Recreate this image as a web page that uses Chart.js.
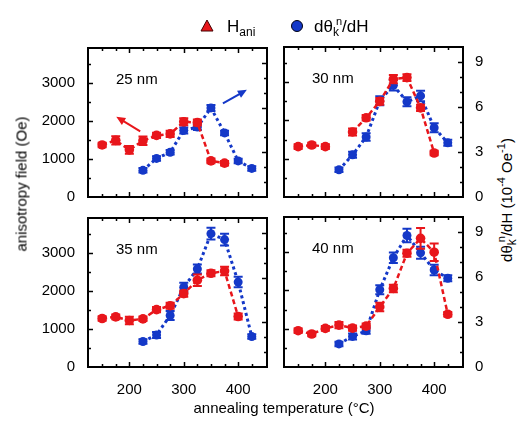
<!DOCTYPE html>
<html>
<head>
<meta charset="utf-8">
<script src="https://cdn.jsdelivr.net/npm/chart.js@4.4.1/dist/chart.umd.min.js"></script>
<style>
  body { margin: 0; background: #fff; font-family: "Liberation Sans", Arial, sans-serif; }
  #wrap { position: relative; width: 532px; height: 432px; overflow: hidden; background: #fff; }
  #wrap canvas { position: absolute; }
  .txt { position: absolute; color: #000; white-space: nowrap; line-height: 1; }
  .rot { transform: translate(-50%, -50%) rotate(-90deg); }
  sub { font-size: 12px; vertical-align: -4px; line-height: 0; }
  sup { font-size: 11px; vertical-align: 7px; line-height: 0; }
  sup.n { margin-left: -3px; }
</style>
</head>
<body>
<div id="wrap">
  <canvas id="c25"></canvas>
  <canvas id="c30"></canvas>
  <canvas id="c35"></canvas>
  <canvas id="c40"></canvas>

  <!-- legend -->
  <svg class="txt" style="left:200px;top:19px" width="14" height="13"><polygon points="7,1 13,12 1,12" fill="#e8161b" stroke="#400" stroke-width="1"/></svg>
  <div class="txt" style="left:227px;top:18px;font-size:17px">H<sub>ani</sub></div>
  <svg class="txt" style="left:290px;top:19px" width="14" height="14"><circle cx="7" cy="7" r="5.5" fill="#1438c8" stroke="#001" stroke-width="1"/></svg>
  <div class="txt" style="left:314px;top:18px;font-size:17px">dθ<sub>k</sub><sup class="n">n</sup>/dH</div>

  <!-- axis titles -->
  <div class="txt" style="left:284px;top:400px;transform:translateX(-50%);font-size:15px">annealing temperature (°C)</div>
  <div class="txt rot" style="left:21px;top:184px;font-size:15px">anisotropy field (Oe)</div>
  <div class="txt rot" style="left:506px;top:200px;font-size:15px">dθ<sub>k</sub><sup class="n">n</sup>/dH (10<sup>-4</sup> Oe<sup>-1</sup>)</div>
</div>

<script>
// annealing temperatures (°C)
const temps = [150, 175, 200, 225, 250, 275, 300, 325, 350, 375, 400, 425];

// anisotropy field H_ani (Oe) and its error bars, per thickness
const hani25    = [1370, 1490, 1240, 1480, 1620, 1660, 1980, 1960, 950, 890, null, null];
const hani25Err = [60, 110, 100, 110, 70, 80, 90, 80, 60, 60, null, null];
const hani30    = [1316, 1359, 1316, null, 1700, 2070, 2500, 3080, 3120, 2330, 1150, null];
const hani30Err = [60, 60, 60, null, 90, 70, 90, 110, 90, 80, 60, null];
const hani35    = [1276, 1319, 1224, 1267, 1509, 1612, 1931, 2284, 2466, 2526, 1328, null];
const hani35Err = [60, 60, 100, 60, 70, 80, 80, 150, 80, 110, 80, null];
const hani40    = [948, 862, 1009, 1095, 1017, 1069, 1569, 2052, 2974, 3362, 3000, 1379];
const hani40Err = [60, 60, 60, 80, 70, 70, 110, 100, 90, 270, 230, 60];

// dθk^n/dH (10^-4 Oe^-1) and its error bars, per thickness
const dth25    = [null, null, null, 1.79, 2.59, 3.0, 4.47, 4.69, 5.98, 4.30, 2.42, 1.92];
const dth25Err = [null, null, null, 0.15, 0.15, 0.15, 0.2, 0.2, 0.2, 0.15, 0.15, 0.15];
const dth30    = [null, null, null, 1.81, 2.81, 4.0, 6.41, 7.45, 6.35, 6.74, 4.62, 3.61];
const dth30Err = [null, null, null, 0.15, 0.2, 0.25, 0.3, 0.35, 0.3, 0.35, 0.3, 0.2];
const dth35    = [null, null, null, 1.71, 2.15, 3.46, 5.35, 6.58, 8.95, 8.55, 5.70, 2.04];
const dth35Err = [null, null, null, 0.15, 0.2, 0.3, 0.3, 0.3, 0.4, 0.4, 0.35, 0.15];
const dth40    = [null, null, null, 1.54, 2.04, 2.41, 5.15, 7.28, 8.77, 7.61, 6.47, 5.92];
const dth40Err = [null, null, null, 0.15, 0.2, 0.2, 0.3, 0.35, 0.45, 0.4, 0.35, 0.2];

// axis ticks
const xTickLabels = [200, 300, 400];
const xMinorTicks = [150, 175, 200, 225, 250, 275, 300, 325, 350, 375, 400, 425];
const leftTickLabels = [0, 1000, 2000, 3000];
const leftMinorTicks = [500, 1000, 1500, 2000, 2500, 3000, 3500];
const rightTickLabels = [0, 3, 6, 9];
const rightMinorTicks = [1, 2, 3, 4, 5, 6, 7, 8, 9];

const panelNames = ['25 nm', '30 nm', '35 nm', '40 nm'];

const RED = '#e8161b';
const BLUE = '#1438c8';
const FONT = { family: '"Liberation Sans", Arial, sans-serif', size: 15 };

// all frames 179 x 153, canvases padded around them
const FRAME_W = 179, FRAME_H = 153;
const PAD_L = 60, PAD_R = 30, PAD_T = 10, PAD_B = 32;

// error bars, drawn just before each dataset's own points
const errorBars = {
  id: 'errorBars',
  beforeDatasetDraw(chart, args) {
    const ds = chart.data.datasets[args.index];
    if (!ds.errors) return;
    const ctx = chart.ctx;
    const ys = chart.scales[ds.yAxisID];
    const xs = chart.scales.x;
    ctx.save();
    ctx.strokeStyle = ds.borderColor;
    ctx.lineWidth = 2;
    ds.data.forEach((p, i) => {
      const e = ds.errors[i];
      if (p.y == null || !e) return;
      const px = xs.getPixelForValue(p.x);
      const top = ys.getPixelForValue(p.y + e);
      const bot = ys.getPixelForValue(p.y - e);
      ctx.beginPath();
      ctx.moveTo(px, top); ctx.lineTo(px, bot);
      ctx.moveTo(px - 4.5, top); ctx.lineTo(px + 4.5, top);
      ctx.moveTo(px - 4.5, bot); ctx.lineTo(px + 4.5, bot);
      ctx.stroke();
    });
    ctx.restore();
  }
};

// closed frame with inward ticks on all four sides, panel label and arrows
const frameTicks = {
  id: 'frameTicks',
  afterDraw(chart, args, opts) {
    const { ctx, chartArea: a } = chart;
    const xs = chart.scales.x, yl = chart.scales.y, yr = chart.scales.y2;
    ctx.save();
    ctx.strokeStyle = '#000';
    ctx.lineWidth = 1.5;
    xMinorTicks.forEach(v => {
      const px = Math.round(xs.getPixelForValue(v)) + 0.5;
      const len = xTickLabels.includes(v) ? 5 : 3;
      ctx.beginPath();
      ctx.moveTo(px, a.bottom); ctx.lineTo(px, a.bottom - len);
      ctx.moveTo(px, a.top); ctx.lineTo(px, a.top + len);
      ctx.stroke();
    });
    leftMinorTicks.forEach(v => {
      const py = Math.round(yl.getPixelForValue(v)) + 0.5;
      const len = leftTickLabels.includes(v) ? 5 : 3;
      ctx.beginPath();
      ctx.moveTo(a.left, py); ctx.lineTo(a.left + len, py);
      ctx.stroke();
    });
    rightMinorTicks.forEach(v => {
      const py = Math.round(yr.getPixelForValue(v)) + 0.5;
      const len = rightTickLabels.includes(v) ? 5 : 3;
      ctx.beginPath();
      ctx.moveTo(a.right, py); ctx.lineTo(a.right - len, py);
      ctx.stroke();
    });
    ctx.lineWidth = 2;
    ctx.strokeRect(a.left, a.top, a.right - a.left, a.bottom - a.top);

    ctx.fillStyle = '#000';
    ctx.font = '15px "Liberation Sans", Arial, sans-serif';
    ctx.textBaseline = 'alphabetic';
    ctx.fillText(opts.label, a.left + 28, a.top + 36);

    (opts.arrows || []).forEach(ar => {
      const ys = chart.scales[ar.axis];
      const x0 = xs.getPixelForValue(ar.from[0]), y0 = ys.getPixelForValue(ar.from[1]);
      const x1 = xs.getPixelForValue(ar.to[0]), y1 = ys.getPixelForValue(ar.to[1]);
      const ang = Math.atan2(y1 - y0, x1 - x0);
      ctx.strokeStyle = ar.color; ctx.fillStyle = ar.color; ctx.lineWidth = 2;
      ctx.beginPath(); ctx.moveTo(x0, y0);
      ctx.lineTo(x1 - 6 * Math.cos(ang), y1 - 6 * Math.sin(ang)); ctx.stroke();
      ctx.beginPath(); ctx.moveTo(x1, y1);
      ctx.lineTo(x1 - 9 * Math.cos(ang) + 4 * Math.sin(ang), y1 - 9 * Math.sin(ang) - 4 * Math.cos(ang));
      ctx.lineTo(x1 - 9 * Math.cos(ang) - 4 * Math.sin(ang), y1 - 9 * Math.sin(ang) + 4 * Math.cos(ang));
      ctx.closePath(); ctx.fill();
    });
    ctx.restore();
  }
};

function pts(vals) {
  return temps.map((t, i) => ({ x: t, y: vals[i] }));
}

const plain = v => String(v);

function makePanel(id, left, top, idx, hani, haniErr, dth, dthErr, showLeft, showRight, showX, arrows) {
  const cv = document.getElementById(id);
  cv.width = PAD_L + FRAME_W + PAD_R;
  cv.height = PAD_T + FRAME_H + PAD_B;
  cv.style.left = (left - PAD_L) + 'px';
  cv.style.top = (top - PAD_T) + 'px';
  cv.style.width = cv.width + 'px';
  cv.style.height = cv.height + 'px';

  return new Chart(cv.getContext('2d'), {
    type: 'line',
    data: {
      datasets: [
        {
          data: pts(hani), errors: haniErr, yAxisID: 'y',
          borderColor: RED, backgroundColor: RED, borderWidth: 2.5, borderDash: [5, 3],
          pointRadius: 4.8, pointBorderWidth: 0, spanGaps: false
        },
        {
          data: pts(dth), errors: dthErr, yAxisID: 'y2',
          borderColor: BLUE, backgroundColor: BLUE, borderWidth: 3, borderDash: [3, 3],
          pointRadius: 4.5, pointBorderWidth: 0, spanGaps: false
        }
      ]
    },
    options: {
      responsive: false,
      animation: false,
      events: [],
      layout: { padding: { top: PAD_T, left: 0, right: 0, bottom: 0 } },
      plugins: {
        legend: { display: false },
        tooltip: { enabled: false },
        frameTicks: { label: panelNames[idx], arrows: arrows }
      },
      scales: {
        x: {
          type: 'linear', min: 124, max: 453,
          grid: { display: false }, border: { display: false },
          afterFit: s => { s.height = PAD_B; },
          afterBuildTicks: s => { s.ticks = xTickLabels.map(v => ({ value: v })); },
          ticks: { display: showX, autoSkip: false, maxRotation: 0, color: '#000', font: FONT, padding: 6, callback: plain }
        },
        y: {
          position: 'left', min: 0, max: 3920,
          grid: { display: false }, border: { display: false },
          afterFit: s => { s.width = PAD_L; },
          afterBuildTicks: s => { s.ticks = leftTickLabels.map(v => ({ value: v })); },
          ticks: { display: showLeft, autoSkip: false, color: '#000', font: FONT, padding: 5, callback: plain }
        },
        y2: {
          position: 'right', min: 0, max: 10,
          grid: { display: false }, border: { display: false },
          afterFit: s => { s.width = PAD_R; },
          afterBuildTicks: s => { s.ticks = rightTickLabels.map(v => ({ value: v })); },
          ticks: { display: showRight, autoSkip: false, color: '#000', font: FONT, padding: 4, callback: plain }
        }
      }
    },
    plugins: [errorBars, frameTicks]
  });
}

const arrows25 = [
  { axis: 'y', color: RED, from: [220, 1725], to: [176, 2110] },
  { axis: 'y2', color: BLUE, from: [372, 6.28], to: [416, 7.19] }
];

makePanel('c25', 88, 44, 0, hani25, hani25Err, dth25, dth25Err, true, false, false, arrows25);
makePanel('c30', 284, 44, 1, hani30, hani30Err, dth30, dth30Err, false, true, false, []);
makePanel('c35', 88, 214, 2, hani35, hani35Err, dth35, dth35Err, true, false, true, []);
makePanel('c40', 284, 214, 3, hani40, hani40Err, dth40, dth40Err, false, true, true, []);
</script>
</body>
</html>
